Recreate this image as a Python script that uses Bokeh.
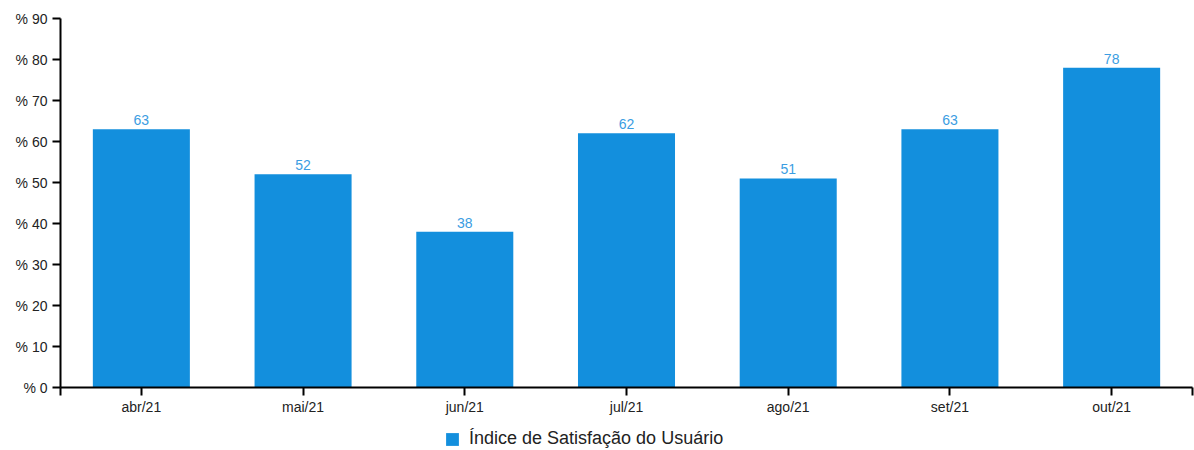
from bokeh.plotting import figure
from bokeh.layouts import column
from bokeh.models import ColumnDataSource, FixedTicker, Range1d, Legend, LegendItem
from bokeh.embed import file_html
from bokeh.resources import INLINE
from bokeh.core.properties import value

categories = ["abr/21", "mai/21", "jun/21", "jul/21", "ago/21", "set/21", "out/21"]
values = [63, 52, 38, 62, 51, 63, 78]
y_ticks = [0, 10, 20, 30, 40, 50, 60, 70, 80, 90]
series_name = "Índice de Satisfação do Usuário"

BAR = "#138fdd"
LABEL = "#3b9de2"
FONT = "Liberation Sans"

xs = [i + 0.5 for i in range(len(categories))]
src = ColumnDataSource(dict(x=xs, top=values, label=[str(v) for v in values]))

p = figure(width=1194, height=420, output_backend="svg", toolbar_location=None,
           x_range=Range1d(0, len(categories)), y_range=Range1d(0, 90),
           min_border_left=60, min_border_right=2, min_border_top=18, min_border_bottom=33)
p.outline_line_color = None
p.grid.visible = False
p.background_fill_color = "white"
p.border_fill_color = "white"

r = p.vbar(x="x", top="top", width=0.6, bottom=0, source=src, fill_color=BAR, line_color=None)
p.text(x="x", y="top", text="label", source=src, text_align="center", text_baseline="bottom",
       y_offset=-4, text_color=LABEL, text_font=value(FONT), text_font_size="14px")

# x axis
p.xaxis.ticker = FixedTicker(ticks=[0] + xs + [len(categories)])
overrides = {0: "", len(categories): ""}
for x, c in zip(xs, categories):
    overrides[x] = c
p.xaxis.major_label_overrides = overrides
p.xaxis.minor_tick_line_color = None
p.xaxis.major_tick_out = 8
p.xaxis.major_tick_in = 0
p.xaxis.axis_line_width = 2
p.xaxis.major_tick_line_width = 2
p.xaxis.axis_line_color = "black"
p.xaxis.major_tick_line_color = "black"
p.xaxis.major_label_text_font = FONT
p.xaxis.major_label_text_font_size = "14px"
p.xaxis.major_label_text_color = "#222222"
p.xaxis.major_label_standoff = 3

# y axis
p.yaxis.ticker = FixedTicker(ticks=y_ticks)
p.yaxis.major_label_overrides = {t: f"% {t}" for t in y_ticks}
p.yaxis.minor_tick_line_color = None
p.yaxis.major_tick_out = 8
p.yaxis.major_tick_in = 0
p.yaxis.axis_line_width = 2
p.yaxis.major_tick_line_width = 2
p.yaxis.axis_line_color = "black"
p.yaxis.major_tick_line_color = "black"
p.yaxis.major_label_text_font = FONT
p.yaxis.major_label_text_font_size = "14px"
p.yaxis.major_label_text_color = "#222222"
p.yaxis.major_label_standoff = 5

# legend strip below the chart (same series drawn out of view, used only for the legend swatch)
p2 = figure(width=1194, height=30, output_backend="svg", toolbar_location=None,
            x_range=Range1d(1000, 1001), y_range=Range1d(1000, 1001),
            min_border_left=0, min_border_right=0, min_border_top=0, min_border_bottom=0)
p2.axis.visible = False
p2.grid.visible = False
p2.outline_line_color = None
r2 = p2.vbar(x="x", top="top", width=0.6, bottom=0, source=src, fill_color=BAR, line_color=None)
legend = Legend(items=[LegendItem(label=series_name, renderers=[r2])], location=(384, 1),
                orientation="horizontal", border_line_color=None, background_fill_alpha=0,
                label_text_font=FONT, label_text_font_size="18px", label_text_color="#222222",
                glyph_width=16, glyph_height=16, label_height=16, padding=0, margin=0, spacing=0,
                label_standoff=9)
p2.add_layout(legend, "center")

layout = column(p, p2, spacing=0)
open("out.html", "w").write(file_html(layout, INLINE))
